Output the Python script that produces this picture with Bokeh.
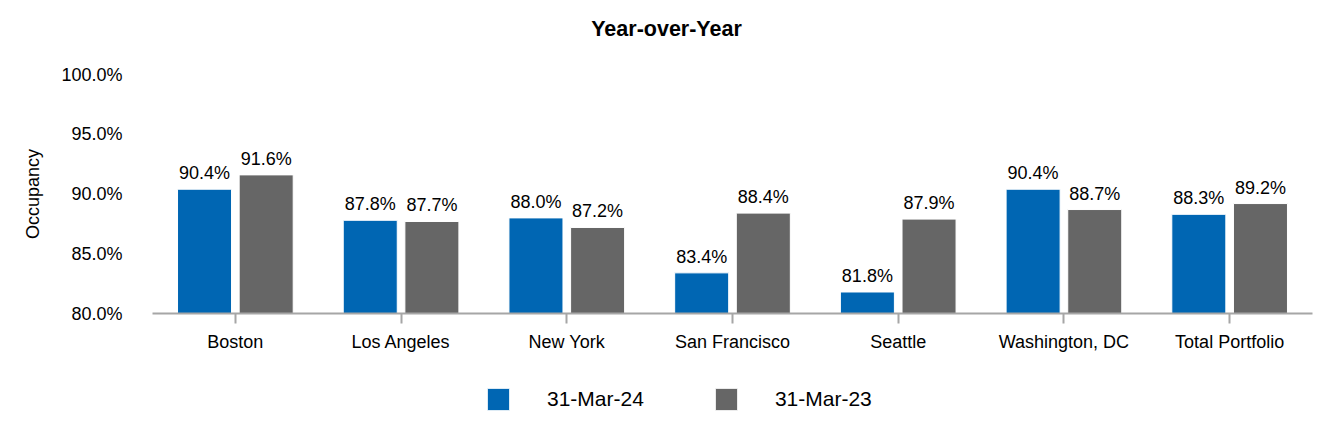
from bokeh.plotting import figure
from bokeh.layouts import column
from bokeh.models import (ColumnDataSource, FactorRange, PrintfTickFormatter,
                          FixedTicker, Legend, LegendItem, LabelSet, Label, Range1d)
from bokeh.core.properties import value
from bokeh.transform import dodge
from bokeh.embed import file_html
from bokeh.resources import INLINE

title_text = "Year-over-Year"
categories = ["Boston", "Los Angeles", "New York", "San Francisco", "Seattle",
              "Washington, DC", "Total Portfolio"]
occ_2024 = [90.4, 87.8, 88.0, 83.4, 81.8, 90.4, 88.3]
occ_2023 = [91.6, 87.7, 87.2, 88.4, 87.9, 88.7, 89.2]
series_names = ["31-Mar-24", "31-Mar-23"]
y_ticks = [80, 85, 90, 95, 100]

BLUE = "#0066B3"
GREY = "#666666"
FONT = "Liberation Sans"

src = ColumnDataSource(dict(
    cat=categories,
    a=occ_2024,
    b=occ_2023,
    la=[f"{v:.1f}%" for v in occ_2024],
    lb=[f"{v:.1f}%" for v in occ_2023],
))

W = 1325
BL, BR = 152, 13

# title strip
t = figure(x_range=Range1d(BL, W - BR), y_range=Range1d(0, 44), width=W, height=44,
           output_backend="svg", toolbar_location=None,
           x_axis_type=None, y_axis_type=None,
           min_border_left=BL, min_border_right=BR, min_border_top=0,
           min_border_bottom=0)
t.outline_line_color = None
t.grid.grid_line_color = None
t.add_layout(Label(x=666, y=16, text=title_text, text_font=FONT,
                   text_font_size="21.5px", text_font_style="bold",
                   text_align="center", text_baseline="middle",
                   text_color="#000000"))

p = figure(x_range=FactorRange(*categories), y_range=Range1d(80, 100),
           width=W, height=326, output_backend="svg", toolbar_location=None,
           min_border_left=BL, min_border_right=BR, min_border_top=30,
           min_border_bottom=57)
p.outline_line_color = None
p.grid.grid_line_color = None
p.background_fill_color = "white"

off = 0.186
w = 0.326
p.vbar(x=dodge("cat", -off, range=p.x_range), top="a", bottom=80, width=w,
       source=src, fill_color=BLUE, line_color="white", line_width=1)
p.vbar(x=dodge("cat", off, range=p.x_range), top="b", bottom=80, width=w,
       source=src, fill_color=GREY, line_color="white", line_width=1)

for col, lab, o in (("a", "la", -off), ("b", "lb", off)):
    p.add_layout(LabelSet(x=dodge("cat", o, range=p.x_range), y=col, text=lab,
                          source=src, y_offset=6, text_align="center",
                          text_baseline="bottom", text_font=value(FONT),
                          text_font_size="18px", text_color="#000000"))

# axes
xa = p.xaxis[0]
xa.axis_line_color = "#A6A6A6"
xa.axis_line_width = 2
xa.major_tick_line_color = "#A6A6A6"
xa.major_tick_line_width = 2
xa.major_tick_out = 10
xa.major_tick_in = 0
xa.minor_tick_line_color = None
xa.major_label_standoff = 8
xa.major_label_text_font = FONT
xa.major_label_text_font_size = "18px"
xa.major_label_text_color = "#000000"

ya = p.yaxis[0]
ya.ticker = FixedTicker(ticks=y_ticks)
ya.formatter = PrintfTickFormatter(format="%.1f%%")
ya.axis_line_color = None
ya.major_tick_line_color = None
ya.minor_tick_line_color = None
ya.major_tick_out = 0
ya.major_tick_in = 0
ya.major_label_standoff = 30
ya.major_label_text_font = FONT
ya.major_label_text_font_size = "18px"
ya.major_label_text_color = "#000000"
ya.axis_label = "Occupancy"
ya.axis_label_text_font = FONT
ya.axis_label_text_font_size = "18px"
ya.axis_label_text_font_style = "normal"
ya.axis_label_text_color = "#000000"
ya.axis_label_standoff = 15

# legend strip
q = figure(x_range=Range1d(BL, W - BR), y_range=Range1d(0, 1), width=W, height=60,
           output_backend="svg", toolbar_location=None,
           x_axis_type=None, y_axis_type=None,
           min_border_left=BL, min_border_right=BR, min_border_top=0,
           min_border_bottom=0)
q.outline_line_color = None
q.grid.grid_line_color = None
g1 = q.vbar(x=[-5000], top=[-50], bottom=[-60], width=0.1, fill_color=BLUE,
            line_color="white", line_width=1)
g2 = q.vbar(x=[-5000], top=[-50], bottom=[-60], width=0.1, fill_color=GREY,
            line_color="white", line_width=1)

legend = Legend(items=[LegendItem(label=series_names[0], renderers=[g1]),
                       LegendItem(label=series_names[1], renderers=[g2])],
                orientation="horizontal", location=(332, 17),
                glyph_width=28, glyph_height=28, label_standoff=35,
                spacing=68, padding=0, margin=0, border_line_color=None,
                background_fill_alpha=0, label_text_font=FONT,
                label_text_font_size="21px", label_text_color="#000000",
                label_height=22)
q.add_layout(legend, "center")

layout = column(t, p, q, spacing=0)
open("out.html", "w").write(file_html(layout, INLINE))
